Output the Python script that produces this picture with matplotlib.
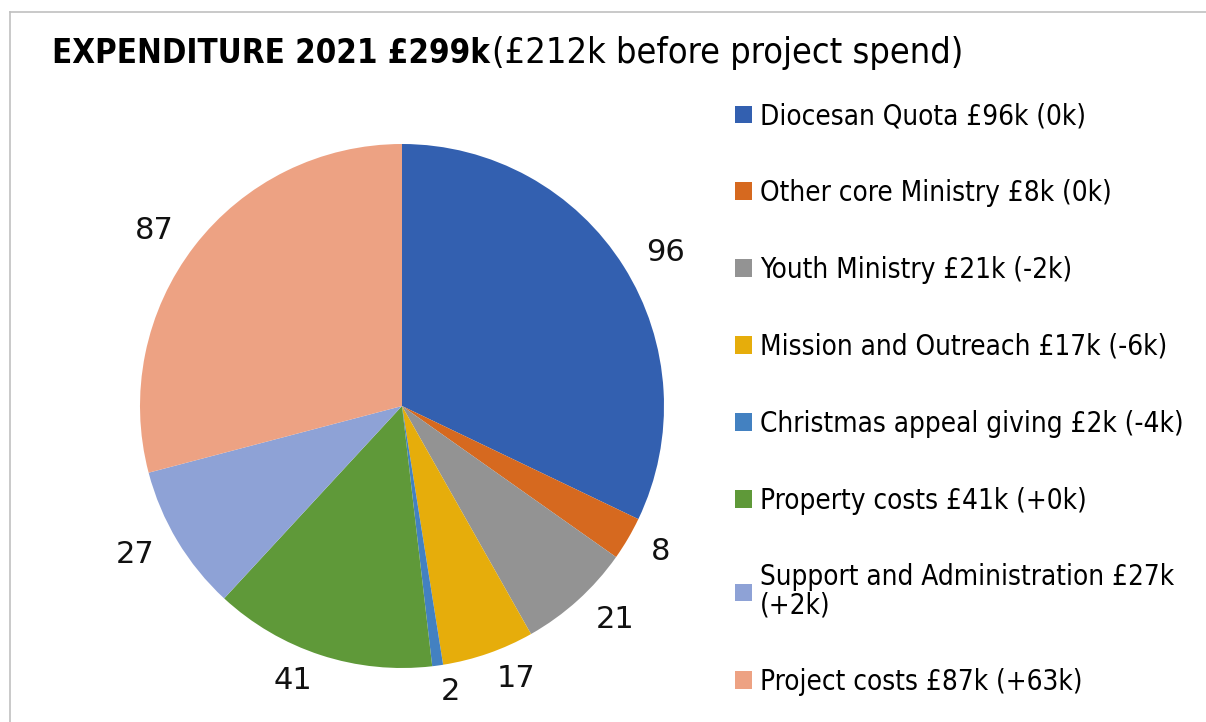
import matplotlib
matplotlib.use('Agg')
import matplotlib.pyplot as plt
from matplotlib.lines import Line2D

# Datos
categorias = ['Diocesan Quota £96k (0k)', 'Other core Ministry £8k (0k)',
              'Youth Ministry £21k (-2k)', 'Mission and Outreach £17k (-6k)',
              'Christmas appeal giving £2k (-4k)', 'Property costs £41k (+0k)',
              'Support and Administration £27k\n(+2k)', 'Project costs £87k (+63k)']
valores = [96, 8, 21, 17, 2, 41, 27, 87]
colores = ['#3360B0', '#D6691F', '#939393', '#E6AD0B',
           '#4381C1', '#5F9939', '#8EA2D6', '#EDA283']
titulo_bold = 'EXPENDITURE 2021 £299k'
titulo_resto = '(£212k before project spend)'

W, H = 1206, 722
fig = plt.figure(figsize=(W / 100, H / 100), dpi=100)
fig.patch.set_facecolor('white')

# marco (solo arriba e izquierda, el resto queda fuera de la imagen)
fig.add_artist(Line2D([10 / W, 1], [1 - 12 / H, 1 - 12 / H], transform=fig.transFigure,
                      color='#C0C0C0', linewidth=1.2))
fig.add_artist(Line2D([10 / W, 10 / W], [0, 1 - 12 / H], transform=fig.transFigure,
                      color='#C0C0C0', linewidth=1.2))

# Pie
cx, cy, r = 402, 406, 262
ax = fig.add_axes([(cx - r) / W, (H - cy - r) / H, 2 * r / W, 2 * r / H])
wedges, textos = ax.pie(valores, colors=colores, startangle=90, counterclock=False,
                        labels=[str(v) for v in valores], labeldistance=1.1,
                        wedgeprops=dict(linewidth=0),
                        textprops=dict(fontsize=22, color='#111111'))
ax.set_xlim(-1, 1)
ax.set_ylim(-1, 1)
ax.set_aspect('equal')
ax.axis('off')

# Leyenda
leg = fig.legend(wedges, categorias, loc='upper left',
                 bbox_to_anchor=(724 / W, 1 - 91 / H), frameon=False,
                 prop=dict(family='DejaVu Sans', stretch='condensed', size=20),
                 handlelength=0.6, handleheight=0.6, handletextpad=0.3,
                 labelspacing=1.76, borderaxespad=0)
leg.get_texts()[6].set_linespacing(0.98)

# Titulo: ajustar tamaño al ancho del original
def texto_ajustado(x0, x1, s, **kw):
    t = fig.text(x0 / W, 1 - 63 / H, s, fontsize=22, va='baseline', **kw)
    fig.canvas.draw()
    ancho = t.get_window_extent().width
    t.set_fontsize(22 * (x1 - x0) / ancho)
    return t

texto_ajustado(52, 487, titulo_bold, fontweight='bold', fontstretch='condensed')
texto_ajustado(492, 965, titulo_resto, fontstretch='condensed')

plt.savefig('out.png', dpi=100)
